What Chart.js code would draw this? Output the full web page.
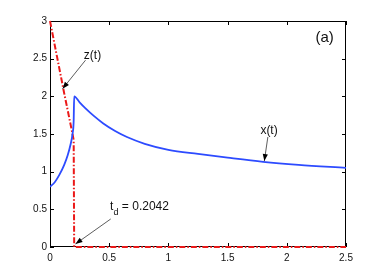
<!DOCTYPE html>
<html>
<head>
<meta charset="utf-8">
<script src="https://cdn.jsdelivr.net/npm/chart.js@4/dist/chart.umd.min.js"></script>
<style>
  html, body { margin: 0; padding: 0; background: #fff; }
  #wrap { width: 382px; height: 279px; }
</style>
</head>
<body>
<div id="wrap"><canvas id="myChart" width="382" height="279"></canvas></div>
<script>
// time points and values
var tX = [0, 0.04, 0.08, 0.12, 0.15, 0.175, 0.19, 0.2, 0.2042, 0.25, 0.3, 0.37, 0.45, 0.55, 0.65, 0.8, 1.0, 1.25, 1.5, 1.8, 2.1, 2.5];
var xVals = [0.8, 0.86, 0.96, 1.09, 1.22, 1.37, 1.5, 1.68, 2.0, 1.92, 1.84, 1.74, 1.64, 1.54, 1.46, 1.37, 1.29, 1.235, 1.185, 1.13, 1.09, 1.05];

var tZ = [0, 0.06, 0.12, 0.18, 0.2, 0.2042, 2.5];
var zVals = [3, 2.52, 2.04, 1.58, 1.42, 0, 0];

var xTicks = [0, 0.5, 1, 1.5, 2, 2.5];
var yTicks = [0, 0.5, 1, 1.5, 2, 2.5, 3];

// labels: text, text centre, arrow start, arrow tip (all in data units)
var notes = [
    { text: "z(t)", at: [0.359, 2.535], from: [0.30, 2.48], to: [0.106, 2.10] },
    { text: "x(t)", at: [1.85, 1.54], from: [1.84, 1.46], to: [1.81, 1.14] }
];
var tdLabel = "0.2042";

var lineFont = '"Liberation Sans Narrow", "Liberation Sans", Arial, sans-serif';

function pts(xs, ys) {
    return xs.map(function (v, i) { return { x: v, y: ys[i] }; });
}

function arrow(ctx, x1, y1, x2, y2) {
    ctx.save();
    ctx.strokeStyle = "#333";
    ctx.lineWidth = 0.8;
    ctx.beginPath();
    ctx.moveTo(x1, y1);
    ctx.lineTo(x2, y2);
    ctx.stroke();
    var a = Math.atan2(y2 - y1, x2 - x1);
    var len = 7, w = 2.6;
    ctx.fillStyle = "#000";
    ctx.beginPath();
    ctx.moveTo(x2, y2);
    ctx.lineTo(x2 - len * Math.cos(a) + w * Math.sin(a), y2 - len * Math.sin(a) - w * Math.cos(a));
    ctx.lineTo(x2 - len * Math.cos(a) - w * Math.sin(a), y2 - len * Math.sin(a) + w * Math.cos(a));
    ctx.closePath();
    ctx.fill();
    ctx.restore();
}

// box and inward ticks go under the lines
var frame = {
    id: "frame",
    beforeDatasetsDraw: function (chart) {
        var ctx = chart.ctx;
        var area = chart.chartArea;
        var sx = chart.scales.x, sy = chart.scales.y;
        ctx.save();
        ctx.strokeStyle = "#000";
        ctx.lineWidth = 1;
        ctx.strokeRect(area.left + 0.5, area.top + 0.5, area.right - area.left - 1, area.bottom - area.top - 1);
        ctx.beginPath();
        xTicks.forEach(function (v) {
            var px = Math.round(sx.getPixelForValue(v)) + 0.5;
            ctx.moveTo(px, area.bottom); ctx.lineTo(px, area.bottom - 4);
            ctx.moveTo(px, area.top); ctx.lineTo(px, area.top + 4);
        });
        yTicks.forEach(function (v) {
            var py = Math.round(sy.getPixelForValue(v)) + 0.5;
            ctx.moveTo(area.left, py); ctx.lineTo(area.left + 4, py);
            ctx.moveTo(area.right, py); ctx.lineTo(area.right - 4, py);
        });
        ctx.stroke();
        ctx.restore();
    }
};

// text labels and arrows on top
var labels = {
    id: "labels",
    afterDraw: function (chart) {
        var ctx = chart.ctx;
        var sx = chart.scales.x, sy = chart.scales.y;
        ctx.save();
        ctx.fillStyle = "#111";
        ctx.font = "12px " + lineFont;
        ctx.textAlign = "center";
        ctx.textBaseline = "middle";
        notes.forEach(function (n) {
            ctx.fillText(n.text, sx.getPixelForValue(n.at[0]), sy.getPixelForValue(n.at[1]));
            arrow(ctx, sx.getPixelForValue(n.from[0]), sy.getPixelForValue(n.from[1]),
                  sx.getPixelForValue(n.to[0]), sy.getPixelForValue(n.to[1]));
        });

        // t_d label with subscript
        var lx = sx.getPixelForValue(0.507), ly = sy.getPixelForValue(0.53);
        ctx.textAlign = "left";
        ctx.font = "12px " + lineFont;
        ctx.fillText("t", lx, ly);
        ctx.font = "9px " + lineFont;
        ctx.fillText("d", lx + 3.5, ly + 5);
        ctx.font = "12px " + lineFont;
        ctx.fillText(" = " + tdLabel, lx + 8.5, ly);
        arrow(ctx, sx.getPixelForValue(0.513), sy.getPixelForValue(0.372),
              sx.getPixelForValue(0.215), sy.getPixelForValue(0.04));

        ctx.font = "15px " + lineFont;
        ctx.textAlign = "center";
        ctx.fillText("(a)", sx.getPixelForValue(2.32), sy.getPixelForValue(2.775));
        ctx.restore();
    }
};

new Chart("myChart", {
    type: "line",
    data: {
        datasets: [{
            label: "x(t)",
            data: pts(tX, xVals),
            borderColor: "rgb(45,75,255)",
            borderWidth: 1.8,
            pointRadius: 0,
            cubicInterpolationMode: "monotone"
        }, {
            label: "z(t)",
            data: pts(tZ, zVals),
            borderColor: "rgb(235,25,25)",
            borderWidth: 2,
            borderDash: [6, 2, 1.5, 2],
            pointRadius: 0,
            tension: 0,
            clip: false
        }]
    },
    options: {
        responsive: false,
        animation: false,
        layout: { padding: { left: 0, right: 36, top: 21, bottom: 0 } },
        plugins: { legend: { display: false }, tooltip: { enabled: false } },
        scales: {
            x: {
                type: "linear",
                min: 0, max: 2.5,
                afterFit: function (s) { s.height = 32; },
                afterBuildTicks: function (s) { s.ticks = xTicks.map(function (v) { return { value: v }; }); },
                grid: { display: false, drawTicks: false },
                border: { display: false },
                ticks: { padding: 5, color: "#111", font: { family: lineFont, size: 10 }, maxRotation: 0,
                         callback: function (v) { return String(v); } }
            },
            y: {
                min: 0, max: 3,
                afterFit: function (s) { s.width = 50; },
                afterBuildTicks: function (s) { s.ticks = yTicks.map(function (v) { return { value: v }; }); },
                grid: { display: false, drawTicks: false },
                border: { display: false },
                ticks: { padding: 3, color: "#111", font: { family: lineFont, size: 10 },
                         callback: function (v) { return String(v); } }
            }
        }
    },
    plugins: [frame, labels]
});
</script>
</body>
</html>
